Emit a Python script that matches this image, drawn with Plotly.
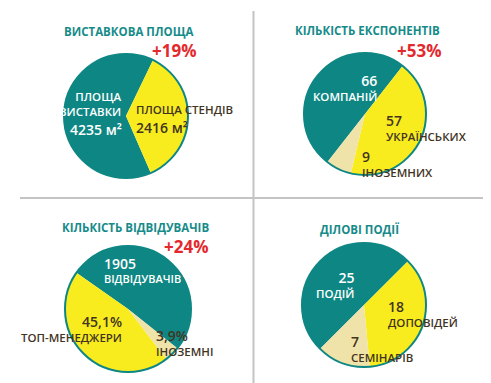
import plotly.graph_objects as go

W, H = 491, 383

# ---------------- data ----------------
titles = ["ВИСТАВКОВА ПЛОЩА", "КІЛЬКІСТЬ ЕКСПОНЕНТІВ", "КІЛЬКІСТЬ ВІДВІДУВАЧІВ", "ДІЛОВІ ПОДІЇ"]
growth = ["+19%", "+53%", "+24%", None]

area_names = ["ПЛОЩА ВИСТАВКИ", "ПЛОЩА СТЕНДІВ"]
area_values = [4235, 2416]          # m²

exhib_names = ["КОМПАНІЙ", "УКРАЇНСЬКИХ", "ІНОЗЕМНИХ"]
exhib_values = [66, 57, 9]

visitor_total = 1905
visitor_names = ["ВІДВІДУВАЧІВ", "ТОП-МЕНЕДЖЕРИ", "ІНОЗЕМНІ"]
visitor_values = [51.0, 45.1, 3.9]  # %

event_names = ["ПОДІЙ", "ДОПОВІДЕЙ", "СЕМІНАРІВ"]
event_values = [25, 18, 7]

# ---------------- style ----------------
TEAL = "#0E8784"
TITLE_TEAL = "#168B8A"
YELLOW = "#F8EC1F"
BEIGE = "#EFE3A9"
DARK = "#43341F"
RED = "#E4292D"
GRID = "#C4C4C4"
FONT = "Open Sans"
WS, NS = 11.5, 14   # word size, number size


def px(x):
    return x / W


def py(y):
    return 1 - y / H


def dom(cx, cy, r):
    return dict(x=[px(cx - r), px(cx + r)], y=[py(cy + r), py(cy - r)])


fig = go.Figure()

pies = [
    (area_values, [TEAL, YELLOW], dom(118, 108, 62), 156.5, "clockwise"),
    (exhib_values, [TEAL, YELLOW, BEIGE], dom(357, 106, 61), -142, "clockwise"),
    (visitor_values, [TEAL, YELLOW, BEIGE], dom(120, 301, 63), -55, "counterclockwise"),
    (event_values, [TEAL, YELLOW, BEIGE], dom(356, 297, 62), -135, "clockwise"),
]

for vals, cols, d, rot, direc in pies:
    fig.add_trace(go.Pie(
        values=vals, sort=False, direction=direc, rotation=rot,
        marker=dict(colors=cols, line=dict(width=0)),
        textinfo="none", hoverinfo="skip", showlegend=False, domain=d,
    ))
    # outer teal ring
    fig.add_trace(go.Pie(
        values=[1], sort=False,
        marker=dict(colors=["rgba(0,0,0,0)"], line=dict(width=2, color=TEAL)),
        textinfo="none", hoverinfo="skip", showlegend=False, domain=d,
    ))

ann = []


def label(text, x, y, color, size=WS, anchor="left", weight=600):
    ann.append(dict(text=text, x=px(x), y=py(y), xref="paper", yref="paper",
                    xanchor=anchor, yanchor="middle", align=anchor,
                    showarrow=False, borderpad=0,
                    font=dict(family=FONT, size=size, color=color, weight=weight)))


def num(s):
    return f"<span style='font-size:{NS}px'>{s}</span>"


# titles and growth
title_pos = [(120, 24), (359, 23), (127, 219), (351, 221)]
growth_pos = [(166, 42), (411, 42), (178, 238), None]
for t, (x, y) in zip(titles, title_pos):
    label(t, x, y, TITLE_TEAL, WS, "center", 700)
for g, p in zip(growth, growth_pos):
    if g:
        label(g, p[0], p[1], RED, 17, "center", 700)

# pie 1
w1 = area_names[0].split(" ")
label(f"{w1[0]}<br>{w1[1]}", 115, 96, "white", WS, "right")
label(f"{area_values[0]} м²", 115, 121, "white", NS, "right")
label(area_names[1], 127, 101, DARK, WS, "left")
label(f"{area_values[1]} м²", 127, 119, DARK, NS, "left")

# pie 2
label(f"{num(exhib_values[0])}<br>{exhib_names[0]}", 370, 80, "white", WS, "right")
label(f"{num(exhib_values[1])}<br>{exhib_names[1]}", 377, 119, DARK, WS, "left")
label(f"{num(exhib_values[2])}<br>{exhib_names[2]}", 353, 155, DARK, WS, "left")

# pie 3
label(f"{num(visitor_total)}<br>{visitor_names[0]}", 95, 262, "white", 11, "left")
label(f"{num((str(visitor_values[1]) + '%').replace('.', ','))}<br>{visitor_names[1]}",
      115, 320, DARK, WS, "right")
label(f"{num((str(visitor_values[2]) + '%').replace('.', ','))}<br>{visitor_names[2]}",
      147, 334, DARK, WS, "left")

# pie 4
label(f"{num(event_values[0])}<br>{event_names[0]}", 347, 276, "white", WS, "right")
label(f"{num(event_values[1])}<br>{event_names[1]}", 379, 305, DARK, WS, "left")
label(f"{num(event_values[2])}<br>{event_names[2]}", 342, 340, DARK, WS, "left")

shapes = [
    dict(type="line", xref="paper", yref="paper", x0=px(245.5), x1=px(245.5),
         y0=py(3), y1=py(375), line=dict(color=GRID, width=2)),
    dict(type="line", xref="paper", yref="paper", x0=px(12), x1=px(480),
         y0=py(190), y1=py(190), line=dict(color=GRID, width=2)),
]

fig.update_layout(
    width=W, height=H, margin=dict(l=0, r=0, t=0, b=0),
    paper_bgcolor="white", plot_bgcolor="white",
    annotations=ann, shapes=shapes,
)

fig.write_html("out.html")
